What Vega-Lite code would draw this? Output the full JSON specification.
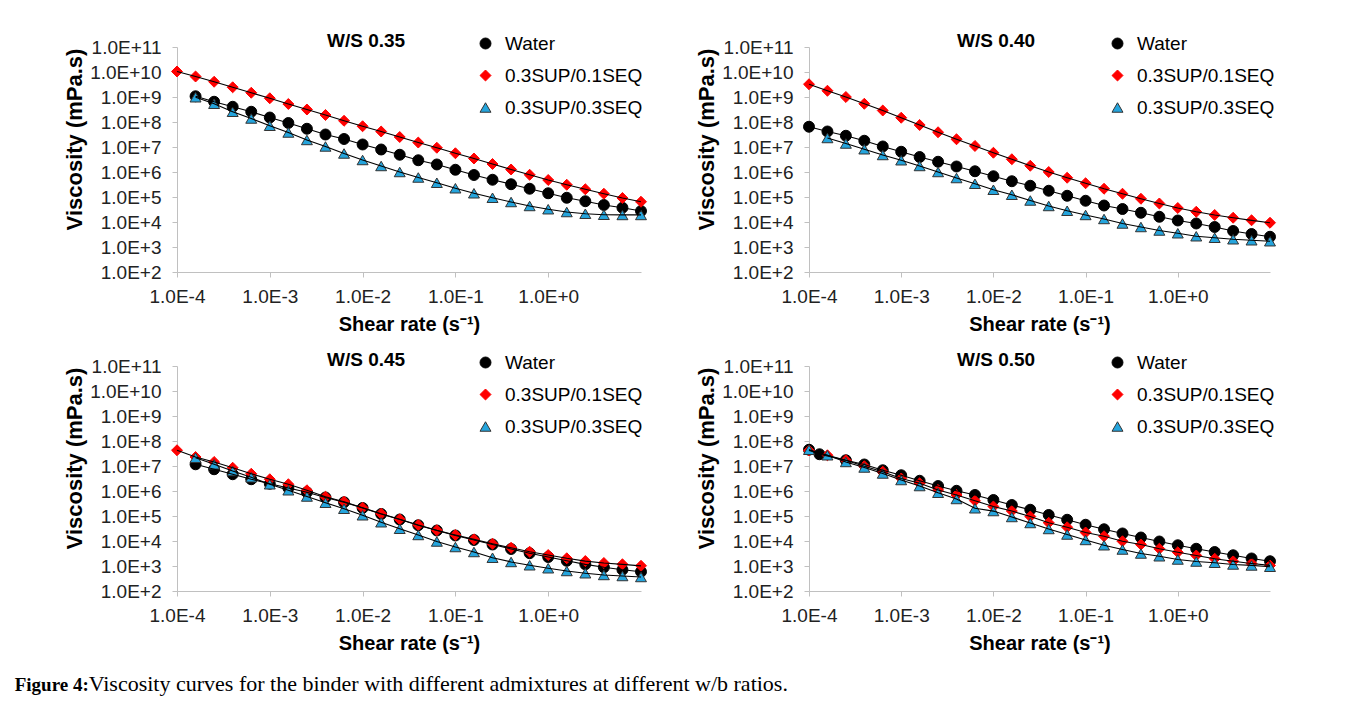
{
"$schema": "https://vega.github.io/schema/vega-lite/v6.json",
"background": "white",
"padding": {"left": 14, "top": 32, "right": 5, "bottom": 5},
"config": {
 "view": {"stroke": null},
 "font": "Liberation Sans",
 "axis": {"grid": false, "domainColor": "#c0c0c0", "tickColor": "#c0c0c0", "tickSize": 5, "labelFont": "Liberation Sans", "labelFontSize": 19, "labelColor": "#222", "titleFont": "Liberation Sans", "titleFontSize": 20, "titleFontWeight": "bold", "titleColor": "#000", "labelFlush": false, "labelOverlap": false},
 "axisY": {"labelPadding": 11, "titlePadding": 3, "titleFontSize": 22, "titleY": 92},
 "axisX": {"labelPadding": 10, "titlePadding": 8},
 "legend": {"orient": "none", "legendX": 299, "legendY": -13, "labelFont": "Liberation Sans", "labelFontSize": 19, "labelColor": "#000", "symbolSize": 120, "rowPadding": 12, "labelOffset": 10, "padding": 0, "symbolStrokeWidth": 1},
 "title": {"font": "Liberation Sans", "fontSize": 19, "fontWeight": "bold", "anchor": "start", "frame": "group", "color": "#000"}
},
"datasets": {"visc": [
{"panel":"W/S 0.35","series":"Water","rate":0.0001585,"viscosity":1.07e9},
{"panel":"W/S 0.35","series":"Water","rate":0.0002512,"viscosity":6.46e8},
{"panel":"W/S 0.35","series":"Water","rate":0.0003981,"viscosity":4.07e8},
{"panel":"W/S 0.35","series":"Water","rate":0.000631,"viscosity":2.57e8},
{"panel":"W/S 0.35","series":"Water","rate":0.001,"viscosity":1.51e8},
{"panel":"W/S 0.35","series":"Water","rate":0.001585,"viscosity":9.12e7},
{"panel":"W/S 0.35","series":"Water","rate":0.002512,"viscosity":5.37e7},
{"panel":"W/S 0.35","series":"Water","rate":0.003981,"viscosity":3.16e7},
{"panel":"W/S 0.35","series":"Water","rate":0.00631,"viscosity":2.09e7},
{"panel":"W/S 0.35","series":"Water","rate":0.01,"viscosity":1.26e7},
{"panel":"W/S 0.35","series":"Water","rate":0.01585,"viscosity":7.94e6},
{"panel":"W/S 0.35","series":"Water","rate":0.02512,"viscosity":4.9e6},
{"panel":"W/S 0.35","series":"Water","rate":0.03981,"viscosity":2.95e6},
{"panel":"W/S 0.35","series":"Water","rate":0.0631,"viscosity":2.0e6},
{"panel":"W/S 0.35","series":"Water","rate":0.1,"viscosity":1.23e6},
{"panel":"W/S 0.35","series":"Water","rate":0.1585,"viscosity":7.59e5},
{"panel":"W/S 0.35","series":"Water","rate":0.2512,"viscosity":4.9e5},
{"panel":"W/S 0.35","series":"Water","rate":0.3981,"viscosity":3.24e5},
{"panel":"W/S 0.35","series":"Water","rate":0.631,"viscosity":2.14e5},
{"panel":"W/S 0.35","series":"Water","rate":1,"viscosity":1.41e5},
{"panel":"W/S 0.35","series":"Water","rate":1.585,"viscosity":9.33e4},
{"panel":"W/S 0.35","series":"Water","rate":2.512,"viscosity":6.76e4},
{"panel":"W/S 0.35","series":"Water","rate":3.981,"viscosity":4.79e4},
{"panel":"W/S 0.35","series":"Water","rate":6.31,"viscosity":3.72e4},
{"panel":"W/S 0.35","series":"Water","rate":10,"viscosity":2.75e4},
{"panel":"W/S 0.35","series":"0.3SUP/0.1SEQ","rate":0.0001,"viscosity":1.05e10},
{"panel":"W/S 0.35","series":"0.3SUP/0.1SEQ","rate":0.0001585,"viscosity":6.61e9},
{"panel":"W/S 0.35","series":"0.3SUP/0.1SEQ","rate":0.0002512,"viscosity":4.07e9},
{"panel":"W/S 0.35","series":"0.3SUP/0.1SEQ","rate":0.0003981,"viscosity":2.45e9},
{"panel":"W/S 0.35","series":"0.3SUP/0.1SEQ","rate":0.000631,"viscosity":1.48e9},
{"panel":"W/S 0.35","series":"0.3SUP/0.1SEQ","rate":0.001,"viscosity":8.91e8},
{"panel":"W/S 0.35","series":"0.3SUP/0.1SEQ","rate":0.001585,"viscosity":5.25e8},
{"panel":"W/S 0.35","series":"0.3SUP/0.1SEQ","rate":0.002512,"viscosity":3.16e8},
{"panel":"W/S 0.35","series":"0.3SUP/0.1SEQ","rate":0.003981,"viscosity":1.91e8},
{"panel":"W/S 0.35","series":"0.3SUP/0.1SEQ","rate":0.00631,"viscosity":1.12e8},
{"panel":"W/S 0.35","series":"0.3SUP/0.1SEQ","rate":0.01,"viscosity":6.76e7},
{"panel":"W/S 0.35","series":"0.3SUP/0.1SEQ","rate":0.01585,"viscosity":4.17e7},
{"panel":"W/S 0.35","series":"0.3SUP/0.1SEQ","rate":0.02512,"viscosity":2.51e7},
{"panel":"W/S 0.35","series":"0.3SUP/0.1SEQ","rate":0.03981,"viscosity":1.51e7},
{"panel":"W/S 0.35","series":"0.3SUP/0.1SEQ","rate":0.0631,"viscosity":9.33e6},
{"panel":"W/S 0.35","series":"0.3SUP/0.1SEQ","rate":0.1,"viscosity":5.62e6},
{"panel":"W/S 0.35","series":"0.3SUP/0.1SEQ","rate":0.1585,"viscosity":3.47e6},
{"panel":"W/S 0.35","series":"0.3SUP/0.1SEQ","rate":0.2512,"viscosity":2.09e6},
{"panel":"W/S 0.35","series":"0.3SUP/0.1SEQ","rate":0.3981,"viscosity":1.26e6},
{"panel":"W/S 0.35","series":"0.3SUP/0.1SEQ","rate":0.631,"viscosity":7.76e5},
{"panel":"W/S 0.35","series":"0.3SUP/0.1SEQ","rate":1,"viscosity":4.79e5},
{"panel":"W/S 0.35","series":"0.3SUP/0.1SEQ","rate":1.585,"viscosity":3.09e5},
{"panel":"W/S 0.35","series":"0.3SUP/0.1SEQ","rate":2.512,"viscosity":2.04e5},
{"panel":"W/S 0.35","series":"0.3SUP/0.1SEQ","rate":3.981,"viscosity":1.35e5},
{"panel":"W/S 0.35","series":"0.3SUP/0.1SEQ","rate":6.31,"viscosity":9.12e4},
{"panel":"W/S 0.35","series":"0.3SUP/0.1SEQ","rate":10,"viscosity":6.46e4},
{"panel":"W/S 0.35","series":"0.3SUP/0.3SEQ","rate":0.0001585,"viscosity":9.77e8},
{"panel":"W/S 0.35","series":"0.3SUP/0.3SEQ","rate":0.0002512,"viscosity":5.37e8},
{"panel":"W/S 0.35","series":"0.3SUP/0.3SEQ","rate":0.0003981,"viscosity":2.57e8},
{"panel":"W/S 0.35","series":"0.3SUP/0.3SEQ","rate":0.000631,"viscosity":1.38e8},
{"panel":"W/S 0.35","series":"0.3SUP/0.3SEQ","rate":0.001,"viscosity":7.08e7},
{"panel":"W/S 0.35","series":"0.3SUP/0.3SEQ","rate":0.001585,"viscosity":3.8e7},
{"panel":"W/S 0.35","series":"0.3SUP/0.3SEQ","rate":0.002512,"viscosity":1.91e7},
{"panel":"W/S 0.35","series":"0.3SUP/0.3SEQ","rate":0.003981,"viscosity":1.05e7},
{"panel":"W/S 0.35","series":"0.3SUP/0.3SEQ","rate":0.00631,"viscosity":5.5e6},
{"panel":"W/S 0.35","series":"0.3SUP/0.3SEQ","rate":0.01,"viscosity":3.02e6},
{"panel":"W/S 0.35","series":"0.3SUP/0.3SEQ","rate":0.01585,"viscosity":1.74e6},
{"panel":"W/S 0.35","series":"0.3SUP/0.3SEQ","rate":0.02512,"viscosity":1.0e6},
{"panel":"W/S 0.35","series":"0.3SUP/0.3SEQ","rate":0.03981,"viscosity":6.03e5},
{"panel":"W/S 0.35","series":"0.3SUP/0.3SEQ","rate":0.0631,"viscosity":3.72e5},
{"panel":"W/S 0.35","series":"0.3SUP/0.3SEQ","rate":0.1,"viscosity":2.24e5},
{"panel":"W/S 0.35","series":"0.3SUP/0.3SEQ","rate":0.1585,"viscosity":1.41e5},
{"panel":"W/S 0.35","series":"0.3SUP/0.3SEQ","rate":0.2512,"viscosity":9.33e4},
{"panel":"W/S 0.35","series":"0.3SUP/0.3SEQ","rate":0.3981,"viscosity":6.31e4},
{"panel":"W/S 0.35","series":"0.3SUP/0.3SEQ","rate":0.631,"viscosity":4.37e4},
{"panel":"W/S 0.35","series":"0.3SUP/0.3SEQ","rate":1,"viscosity":3.24e4},
{"panel":"W/S 0.35","series":"0.3SUP/0.3SEQ","rate":1.585,"viscosity":2.51e4},
{"panel":"W/S 0.35","series":"0.3SUP/0.3SEQ","rate":2.512,"viscosity":2.14e4},
{"panel":"W/S 0.35","series":"0.3SUP/0.3SEQ","rate":3.981,"viscosity":1.95e4},
{"panel":"W/S 0.35","series":"0.3SUP/0.3SEQ","rate":6.31,"viscosity":1.91e4},
{"panel":"W/S 0.35","series":"0.3SUP/0.3SEQ","rate":10,"viscosity":1.91e4},
{"panel":"W/S 0.40","series":"Water","rate":0.0001,"viscosity":6.46e7},
{"panel":"W/S 0.40","series":"Water","rate":0.0001585,"viscosity":4.17e7},
{"panel":"W/S 0.40","series":"Water","rate":0.0002512,"viscosity":2.82e7},
{"panel":"W/S 0.40","series":"Water","rate":0.0003981,"viscosity":1.78e7},
{"panel":"W/S 0.40","series":"Water","rate":0.000631,"viscosity":1.05e7},
{"panel":"W/S 0.40","series":"Water","rate":0.001,"viscosity":6.46e6},
{"panel":"W/S 0.40","series":"Water","rate":0.001585,"viscosity":3.98e6},
{"panel":"W/S 0.40","series":"Water","rate":0.002512,"viscosity":2.57e6},
{"panel":"W/S 0.40","series":"Water","rate":0.003981,"viscosity":1.66e6},
{"panel":"W/S 0.40","series":"Water","rate":0.00631,"viscosity":1.07e6},
{"panel":"W/S 0.40","series":"Water","rate":0.01,"viscosity":6.76e5},
{"panel":"W/S 0.40","series":"Water","rate":0.01585,"viscosity":4.27e5},
{"panel":"W/S 0.40","series":"Water","rate":0.02512,"viscosity":2.82e5},
{"panel":"W/S 0.40","series":"Water","rate":0.03981,"viscosity":1.78e5},
{"panel":"W/S 0.40","series":"Water","rate":0.0631,"viscosity":1.12e5},
{"panel":"W/S 0.40","series":"Water","rate":0.1,"viscosity":7.08e4},
{"panel":"W/S 0.40","series":"Water","rate":0.1585,"viscosity":4.57e4},
{"panel":"W/S 0.40","series":"Water","rate":0.2512,"viscosity":3.31e4},
{"panel":"W/S 0.40","series":"Water","rate":0.3981,"viscosity":2.34e4},
{"panel":"W/S 0.40","series":"Water","rate":0.631,"viscosity":1.62e4},
{"panel":"W/S 0.40","series":"Water","rate":1,"viscosity":1.15e4},
{"panel":"W/S 0.40","series":"Water","rate":1.585,"viscosity":8.71e3},
{"panel":"W/S 0.40","series":"Water","rate":2.512,"viscosity":6.31e3},
{"panel":"W/S 0.40","series":"Water","rate":3.981,"viscosity":4.37e3},
{"panel":"W/S 0.40","series":"Water","rate":6.31,"viscosity":3.31e3},
{"panel":"W/S 0.40","series":"Water","rate":10,"viscosity":2.57e3},
{"panel":"W/S 0.40","series":"0.3SUP/0.1SEQ","rate":0.0001,"viscosity":3.24e9},
{"panel":"W/S 0.40","series":"0.3SUP/0.1SEQ","rate":0.0001585,"viscosity":1.78e9},
{"panel":"W/S 0.40","series":"0.3SUP/0.1SEQ","rate":0.0002512,"viscosity":1.0e9},
{"panel":"W/S 0.40","series":"0.3SUP/0.1SEQ","rate":0.0003981,"viscosity":5.37e8},
{"panel":"W/S 0.40","series":"0.3SUP/0.1SEQ","rate":0.000631,"viscosity":2.88e8},
{"panel":"W/S 0.40","series":"0.3SUP/0.1SEQ","rate":0.001,"viscosity":1.48e8},
{"panel":"W/S 0.40","series":"0.3SUP/0.1SEQ","rate":0.001585,"viscosity":7.59e7},
{"panel":"W/S 0.40","series":"0.3SUP/0.1SEQ","rate":0.002512,"viscosity":3.89e7},
{"panel":"W/S 0.40","series":"0.3SUP/0.1SEQ","rate":0.003981,"viscosity":2.04e7},
{"panel":"W/S 0.40","series":"0.3SUP/0.1SEQ","rate":0.00631,"viscosity":1.1e7},
{"panel":"W/S 0.40","series":"0.3SUP/0.1SEQ","rate":0.01,"viscosity":5.89e6},
{"panel":"W/S 0.40","series":"0.3SUP/0.1SEQ","rate":0.01585,"viscosity":3.24e6},
{"panel":"W/S 0.40","series":"0.3SUP/0.1SEQ","rate":0.02512,"viscosity":1.78e6},
{"panel":"W/S 0.40","series":"0.3SUP/0.1SEQ","rate":0.03981,"viscosity":1.0e6},
{"panel":"W/S 0.40","series":"0.3SUP/0.1SEQ","rate":0.0631,"viscosity":5.89e5},
{"panel":"W/S 0.40","series":"0.3SUP/0.1SEQ","rate":0.1,"viscosity":3.55e5},
{"panel":"W/S 0.40","series":"0.3SUP/0.1SEQ","rate":0.1585,"viscosity":2.14e5},
{"panel":"W/S 0.40","series":"0.3SUP/0.1SEQ","rate":0.2512,"viscosity":1.35e5},
{"panel":"W/S 0.40","series":"0.3SUP/0.1SEQ","rate":0.3981,"viscosity":8.51e4},
{"panel":"W/S 0.40","series":"0.3SUP/0.1SEQ","rate":0.631,"viscosity":5.5e4},
{"panel":"W/S 0.40","series":"0.3SUP/0.1SEQ","rate":1,"viscosity":3.63e4},
{"panel":"W/S 0.40","series":"0.3SUP/0.1SEQ","rate":1.585,"viscosity":2.57e4},
{"panel":"W/S 0.40","series":"0.3SUP/0.1SEQ","rate":2.512,"viscosity":1.91e4},
{"panel":"W/S 0.40","series":"0.3SUP/0.1SEQ","rate":3.981,"viscosity":1.48e4},
{"panel":"W/S 0.40","series":"0.3SUP/0.1SEQ","rate":6.31,"viscosity":1.17e4},
{"panel":"W/S 0.40","series":"0.3SUP/0.1SEQ","rate":10,"viscosity":9.33e3},
{"panel":"W/S 0.40","series":"0.3SUP/0.3SEQ","rate":0.0001585,"viscosity":2.29e7},
{"panel":"W/S 0.40","series":"0.3SUP/0.3SEQ","rate":0.0002512,"viscosity":1.38e7},
{"panel":"W/S 0.40","series":"0.3SUP/0.3SEQ","rate":0.0003981,"viscosity":8.13e6},
{"panel":"W/S 0.40","series":"0.3SUP/0.3SEQ","rate":0.000631,"viscosity":4.79e6},
{"panel":"W/S 0.40","series":"0.3SUP/0.3SEQ","rate":0.001,"viscosity":2.95e6},
{"panel":"W/S 0.40","series":"0.3SUP/0.3SEQ","rate":0.001585,"viscosity":1.74e6},
{"panel":"W/S 0.40","series":"0.3SUP/0.3SEQ","rate":0.002512,"viscosity":1.0e6},
{"panel":"W/S 0.40","series":"0.3SUP/0.3SEQ","rate":0.003981,"viscosity":5.75e5},
{"panel":"W/S 0.40","series":"0.3SUP/0.3SEQ","rate":0.00631,"viscosity":3.39e5},
{"panel":"W/S 0.40","series":"0.3SUP/0.3SEQ","rate":0.01,"viscosity":1.95e5},
{"panel":"W/S 0.40","series":"0.3SUP/0.3SEQ","rate":0.01585,"viscosity":1.23e5},
{"panel":"W/S 0.40","series":"0.3SUP/0.3SEQ","rate":0.02512,"viscosity":7.24e4},
{"panel":"W/S 0.40","series":"0.3SUP/0.3SEQ","rate":0.03981,"viscosity":4.37e4},
{"panel":"W/S 0.40","series":"0.3SUP/0.3SEQ","rate":0.0631,"viscosity":2.82e4},
{"panel":"W/S 0.40","series":"0.3SUP/0.3SEQ","rate":0.1,"viscosity":1.91e4},
{"panel":"W/S 0.40","series":"0.3SUP/0.3SEQ","rate":0.1585,"viscosity":1.32e4},
{"panel":"W/S 0.40","series":"0.3SUP/0.3SEQ","rate":0.2512,"viscosity":8.71e3},
{"panel":"W/S 0.40","series":"0.3SUP/0.3SEQ","rate":0.3981,"viscosity":6.31e3},
{"panel":"W/S 0.40","series":"0.3SUP/0.3SEQ","rate":0.631,"viscosity":4.57e3},
{"panel":"W/S 0.40","series":"0.3SUP/0.3SEQ","rate":1,"viscosity":3.55e3},
{"panel":"W/S 0.40","series":"0.3SUP/0.3SEQ","rate":1.585,"viscosity":2.69e3},
{"panel":"W/S 0.40","series":"0.3SUP/0.3SEQ","rate":2.512,"viscosity":2.34e3},
{"panel":"W/S 0.40","series":"0.3SUP/0.3SEQ","rate":3.981,"viscosity":2.04e3},
{"panel":"W/S 0.40","series":"0.3SUP/0.3SEQ","rate":6.31,"viscosity":1.86e3},
{"panel":"W/S 0.40","series":"0.3SUP/0.3SEQ","rate":10,"viscosity":1.7e3},
{"panel":"W/S 0.45","series":"Water","rate":0.0001585,"viscosity":1.17e7},
{"panel":"W/S 0.45","series":"Water","rate":0.0002512,"viscosity":7.41e6},
{"panel":"W/S 0.45","series":"Water","rate":0.0003981,"viscosity":4.68e6},
{"panel":"W/S 0.45","series":"Water","rate":0.000631,"viscosity":2.95e6},
{"panel":"W/S 0.45","series":"Water","rate":0.001,"viscosity":1.95e6},
{"panel":"W/S 0.45","series":"Water","rate":0.001585,"viscosity":1.32e6},
{"panel":"W/S 0.45","series":"Water","rate":0.002512,"viscosity":8.91e5},
{"panel":"W/S 0.45","series":"Water","rate":0.003981,"viscosity":5.5e5},
{"panel":"W/S 0.45","series":"Water","rate":0.00631,"viscosity":3.55e5},
{"panel":"W/S 0.45","series":"Water","rate":0.01,"viscosity":2.09e5},
{"panel":"W/S 0.45","series":"Water","rate":0.01585,"viscosity":1.2e5},
{"panel":"W/S 0.45","series":"Water","rate":0.02512,"viscosity":7.24e4},
{"panel":"W/S 0.45","series":"Water","rate":0.03981,"viscosity":4.27e4},
{"panel":"W/S 0.45","series":"Water","rate":0.0631,"viscosity":2.63e4},
{"panel":"W/S 0.45","series":"Water","rate":0.1,"viscosity":1.66e4},
{"panel":"W/S 0.45","series":"Water","rate":0.1585,"viscosity":1.1e4},
{"panel":"W/S 0.45","series":"Water","rate":0.2512,"viscosity":7.24e3},
{"panel":"W/S 0.45","series":"Water","rate":0.3981,"viscosity":4.79e3},
{"panel":"W/S 0.45","series":"Water","rate":0.631,"viscosity":3.24e3},
{"panel":"W/S 0.45","series":"Water","rate":1,"viscosity":2.29e3},
{"panel":"W/S 0.45","series":"Water","rate":1.585,"viscosity":1.62e3},
{"panel":"W/S 0.45","series":"Water","rate":2.512,"viscosity":1.17e3},
{"panel":"W/S 0.45","series":"Water","rate":3.981,"viscosity":891},
{"panel":"W/S 0.45","series":"Water","rate":6.31,"viscosity":708},
{"panel":"W/S 0.45","series":"Water","rate":10,"viscosity":589},
{"panel":"W/S 0.45","series":"0.3SUP/0.1SEQ","rate":0.0001,"viscosity":4.27e7},
{"panel":"W/S 0.45","series":"0.3SUP/0.1SEQ","rate":0.0001585,"viscosity":2.29e7},
{"panel":"W/S 0.45","series":"0.3SUP/0.1SEQ","rate":0.0002512,"viscosity":1.45e7},
{"panel":"W/S 0.45","series":"0.3SUP/0.1SEQ","rate":0.0003981,"viscosity":8.51e6},
{"panel":"W/S 0.45","series":"0.3SUP/0.1SEQ","rate":0.000631,"viscosity":4.9e6},
{"panel":"W/S 0.45","series":"0.3SUP/0.1SEQ","rate":0.001,"viscosity":2.95e6},
{"panel":"W/S 0.45","series":"0.3SUP/0.1SEQ","rate":0.001585,"viscosity":1.86e6},
{"panel":"W/S 0.45","series":"0.3SUP/0.1SEQ","rate":0.002512,"viscosity":1.07e6},
{"panel":"W/S 0.45","series":"0.3SUP/0.1SEQ","rate":0.003981,"viscosity":5.89e5},
{"panel":"W/S 0.45","series":"0.3SUP/0.1SEQ","rate":0.00631,"viscosity":3.72e5},
{"panel":"W/S 0.45","series":"0.3SUP/0.1SEQ","rate":0.01,"viscosity":2.14e5},
{"panel":"W/S 0.45","series":"0.3SUP/0.1SEQ","rate":0.01585,"viscosity":1.23e5},
{"panel":"W/S 0.45","series":"0.3SUP/0.1SEQ","rate":0.02512,"viscosity":7.41e4},
{"panel":"W/S 0.45","series":"0.3SUP/0.1SEQ","rate":0.03981,"viscosity":4.37e4},
{"panel":"W/S 0.45","series":"0.3SUP/0.1SEQ","rate":0.0631,"viscosity":2.69e4},
{"panel":"W/S 0.45","series":"0.3SUP/0.1SEQ","rate":0.1,"viscosity":1.74e4},
{"panel":"W/S 0.45","series":"0.3SUP/0.1SEQ","rate":0.1585,"viscosity":1.17e4},
{"panel":"W/S 0.45","series":"0.3SUP/0.1SEQ","rate":0.2512,"viscosity":7.76e3},
{"panel":"W/S 0.45","series":"0.3SUP/0.1SEQ","rate":0.3981,"viscosity":5.37e3},
{"panel":"W/S 0.45","series":"0.3SUP/0.1SEQ","rate":0.631,"viscosity":3.72e3},
{"panel":"W/S 0.45","series":"0.3SUP/0.1SEQ","rate":1,"viscosity":2.75e3},
{"panel":"W/S 0.45","series":"0.3SUP/0.1SEQ","rate":1.585,"viscosity":2.04e3},
{"panel":"W/S 0.45","series":"0.3SUP/0.1SEQ","rate":2.512,"viscosity":1.58e3},
{"panel":"W/S 0.45","series":"0.3SUP/0.1SEQ","rate":3.981,"viscosity":1.32e3},
{"panel":"W/S 0.45","series":"0.3SUP/0.1SEQ","rate":6.31,"viscosity":1.17e3},
{"panel":"W/S 0.45","series":"0.3SUP/0.1SEQ","rate":10,"viscosity":1.02e3},
{"panel":"W/S 0.45","series":"0.3SUP/0.3SEQ","rate":0.0001585,"viscosity":2.14e7},
{"panel":"W/S 0.45","series":"0.3SUP/0.3SEQ","rate":0.0002512,"viscosity":1.17e7},
{"panel":"W/S 0.45","series":"0.3SUP/0.3SEQ","rate":0.0003981,"viscosity":6.31e6},
{"panel":"W/S 0.45","series":"0.3SUP/0.3SEQ","rate":0.000631,"viscosity":3.55e6},
{"panel":"W/S 0.45","series":"0.3SUP/0.3SEQ","rate":0.001,"viscosity":1.86e6},
{"panel":"W/S 0.45","series":"0.3SUP/0.3SEQ","rate":0.001585,"viscosity":1.07e6},
{"panel":"W/S 0.45","series":"0.3SUP/0.3SEQ","rate":0.002512,"viscosity":6.03e5},
{"panel":"W/S 0.45","series":"0.3SUP/0.3SEQ","rate":0.003981,"viscosity":3.39e5},
{"panel":"W/S 0.45","series":"0.3SUP/0.3SEQ","rate":0.00631,"viscosity":1.95e5},
{"panel":"W/S 0.45","series":"0.3SUP/0.3SEQ","rate":0.01,"viscosity":1.07e5},
{"panel":"W/S 0.45","series":"0.3SUP/0.3SEQ","rate":0.01585,"viscosity":5.62e4},
{"panel":"W/S 0.45","series":"0.3SUP/0.3SEQ","rate":0.02512,"viscosity":3.09e4},
{"panel":"W/S 0.45","series":"0.3SUP/0.3SEQ","rate":0.03981,"viscosity":1.74e4},
{"panel":"W/S 0.45","series":"0.3SUP/0.3SEQ","rate":0.0631,"viscosity":9.55e3},
{"panel":"W/S 0.45","series":"0.3SUP/0.3SEQ","rate":0.1,"viscosity":5.75e3},
{"panel":"W/S 0.45","series":"0.3SUP/0.3SEQ","rate":0.1585,"viscosity":3.63e3},
{"panel":"W/S 0.45","series":"0.3SUP/0.3SEQ","rate":0.2512,"viscosity":2.14e3},
{"panel":"W/S 0.45","series":"0.3SUP/0.3SEQ","rate":0.3981,"viscosity":1.45e3},
{"panel":"W/S 0.45","series":"0.3SUP/0.3SEQ","rate":0.631,"viscosity":1.07e3},
{"panel":"W/S 0.45","series":"0.3SUP/0.3SEQ","rate":1,"viscosity":813},
{"panel":"W/S 0.45","series":"0.3SUP/0.3SEQ","rate":1.585,"viscosity":631},
{"panel":"W/S 0.45","series":"0.3SUP/0.3SEQ","rate":2.512,"viscosity":513},
{"panel":"W/S 0.45","series":"0.3SUP/0.3SEQ","rate":3.981,"viscosity":437},
{"panel":"W/S 0.45","series":"0.3SUP/0.3SEQ","rate":6.31,"viscosity":398},
{"panel":"W/S 0.45","series":"0.3SUP/0.3SEQ","rate":10,"viscosity":363},
{"panel":"W/S 0.50","series":"Water","rate":0.0001,"viscosity":4.47e7},
{"panel":"W/S 0.50","series":"Water","rate":0.00013,"viscosity":2.95e7},
{"panel":"W/S 0.50","series":"Water","rate":0.0002512,"viscosity":1.7e7},
{"panel":"W/S 0.50","series":"Water","rate":0.0003981,"viscosity":1.15e7},
{"panel":"W/S 0.50","series":"Water","rate":0.000631,"viscosity":6.76e6},
{"panel":"W/S 0.50","series":"Water","rate":0.001,"viscosity":4.27e6},
{"panel":"W/S 0.50","series":"Water","rate":0.001585,"viscosity":2.57e6},
{"panel":"W/S 0.50","series":"Water","rate":0.002512,"viscosity":1.58e6},
{"panel":"W/S 0.50","series":"Water","rate":0.003981,"viscosity":1.02e6},
{"panel":"W/S 0.50","series":"Water","rate":0.00631,"viscosity":6.92e5},
{"panel":"W/S 0.50","series":"Water","rate":0.01,"viscosity":4.37e5},
{"panel":"W/S 0.50","series":"Water","rate":0.01585,"viscosity":2.75e5},
{"panel":"W/S 0.50","series":"Water","rate":0.02512,"viscosity":1.78e5},
{"panel":"W/S 0.50","series":"Water","rate":0.03981,"viscosity":1.1e5},
{"panel":"W/S 0.50","series":"Water","rate":0.0631,"viscosity":7.08e4},
{"panel":"W/S 0.50","series":"Water","rate":0.1,"viscosity":4.47e4},
{"panel":"W/S 0.50","series":"Water","rate":0.1585,"viscosity":2.95e4},
{"panel":"W/S 0.50","series":"Water","rate":0.2512,"viscosity":2.0e4},
{"panel":"W/S 0.50","series":"Water","rate":0.3981,"viscosity":1.38e4},
{"panel":"W/S 0.50","series":"Water","rate":0.631,"viscosity":9.55e3},
{"panel":"W/S 0.50","series":"Water","rate":1,"viscosity":6.76e3},
{"panel":"W/S 0.50","series":"Water","rate":1.585,"viscosity":4.9e3},
{"panel":"W/S 0.50","series":"Water","rate":2.512,"viscosity":3.63e3},
{"panel":"W/S 0.50","series":"Water","rate":3.981,"viscosity":2.69e3},
{"panel":"W/S 0.50","series":"Water","rate":6.31,"viscosity":2.0e3},
{"panel":"W/S 0.50","series":"Water","rate":10,"viscosity":1.55e3},
{"panel":"W/S 0.50","series":"0.3SUP/0.1SEQ","rate":0.0001,"viscosity":4.17e7},
{"panel":"W/S 0.50","series":"0.3SUP/0.1SEQ","rate":0.0001585,"viscosity":2.69e7},
{"panel":"W/S 0.50","series":"0.3SUP/0.1SEQ","rate":0.0002512,"viscosity":1.7e7},
{"panel":"W/S 0.50","series":"0.3SUP/0.1SEQ","rate":0.0003981,"viscosity":9.77e6},
{"panel":"W/S 0.50","series":"0.3SUP/0.1SEQ","rate":0.000631,"viscosity":5.89e6},
{"panel":"W/S 0.50","series":"0.3SUP/0.1SEQ","rate":0.001,"viscosity":3.16e6},
{"panel":"W/S 0.50","series":"0.3SUP/0.1SEQ","rate":0.001585,"viscosity":2.04e6},
{"panel":"W/S 0.50","series":"0.3SUP/0.1SEQ","rate":0.002512,"viscosity":1.1e6},
{"panel":"W/S 0.50","series":"0.3SUP/0.1SEQ","rate":0.003981,"viscosity":6.92e5},
{"panel":"W/S 0.50","series":"0.3SUP/0.1SEQ","rate":0.00631,"viscosity":4.07e5},
{"panel":"W/S 0.50","series":"0.3SUP/0.1SEQ","rate":0.01,"viscosity":2.4e5},
{"panel":"W/S 0.50","series":"0.3SUP/0.1SEQ","rate":0.01585,"viscosity":1.58e5},
{"panel":"W/S 0.50","series":"0.3SUP/0.1SEQ","rate":0.02512,"viscosity":9.55e4},
{"panel":"W/S 0.50","series":"0.3SUP/0.1SEQ","rate":0.03981,"viscosity":5.37e4},
{"panel":"W/S 0.50","series":"0.3SUP/0.1SEQ","rate":0.0631,"viscosity":3.55e4},
{"panel":"W/S 0.50","series":"0.3SUP/0.1SEQ","rate":0.1,"viscosity":2.19e4},
{"panel":"W/S 0.50","series":"0.3SUP/0.1SEQ","rate":0.1585,"viscosity":1.55e4},
{"panel":"W/S 0.50","series":"0.3SUP/0.1SEQ","rate":0.2512,"viscosity":9.77e3},
{"panel":"W/S 0.50","series":"0.3SUP/0.1SEQ","rate":0.3981,"viscosity":7.24e3},
{"panel":"W/S 0.50","series":"0.3SUP/0.1SEQ","rate":0.631,"viscosity":4.9e3},
{"panel":"W/S 0.50","series":"0.3SUP/0.1SEQ","rate":1,"viscosity":3.55e3},
{"panel":"W/S 0.50","series":"0.3SUP/0.1SEQ","rate":1.585,"viscosity":2.63e3},
{"panel":"W/S 0.50","series":"0.3SUP/0.1SEQ","rate":2.512,"viscosity":1.95e3},
{"panel":"W/S 0.50","series":"0.3SUP/0.1SEQ","rate":3.981,"viscosity":1.55e3},
{"panel":"W/S 0.50","series":"0.3SUP/0.1SEQ","rate":6.31,"viscosity":1.26e3},
{"panel":"W/S 0.50","series":"0.3SUP/0.1SEQ","rate":10,"viscosity":1.05e3},
{"panel":"W/S 0.50","series":"0.3SUP/0.3SEQ","rate":0.0001,"viscosity":4.47e7},
{"panel":"W/S 0.50","series":"0.3SUP/0.3SEQ","rate":0.0001585,"viscosity":2.69e7},
{"panel":"W/S 0.50","series":"0.3SUP/0.3SEQ","rate":0.0002512,"viscosity":1.45e7},
{"panel":"W/S 0.50","series":"0.3SUP/0.3SEQ","rate":0.0003981,"viscosity":8.71e6},
{"panel":"W/S 0.50","series":"0.3SUP/0.3SEQ","rate":0.000631,"viscosity":5.01e6},
{"panel":"W/S 0.50","series":"0.3SUP/0.3SEQ","rate":0.001,"viscosity":2.75e6},
{"panel":"W/S 0.50","series":"0.3SUP/0.3SEQ","rate":0.001585,"viscosity":1.58e6},
{"panel":"W/S 0.50","series":"0.3SUP/0.3SEQ","rate":0.002512,"viscosity":8.51e5},
{"panel":"W/S 0.50","series":"0.3SUP/0.3SEQ","rate":0.003981,"viscosity":4.79e5},
{"panel":"W/S 0.50","series":"0.3SUP/0.3SEQ","rate":0.00631,"viscosity":2.04e5},
{"panel":"W/S 0.50","series":"0.3SUP/0.3SEQ","rate":0.01,"viscosity":1.58e5},
{"panel":"W/S 0.50","series":"0.3SUP/0.3SEQ","rate":0.01585,"viscosity":9.12e4},
{"panel":"W/S 0.50","series":"0.3SUP/0.3SEQ","rate":0.02512,"viscosity":5.25e4},
{"panel":"W/S 0.50","series":"0.3SUP/0.3SEQ","rate":0.03981,"viscosity":3.02e4},
{"panel":"W/S 0.50","series":"0.3SUP/0.3SEQ","rate":0.0631,"viscosity":1.82e4},
{"panel":"W/S 0.50","series":"0.3SUP/0.3SEQ","rate":0.1,"viscosity":1.1e4},
{"panel":"W/S 0.50","series":"0.3SUP/0.3SEQ","rate":0.1585,"viscosity":6.76e3},
{"panel":"W/S 0.50","series":"0.3SUP/0.3SEQ","rate":0.2512,"viscosity":4.57e3},
{"panel":"W/S 0.50","series":"0.3SUP/0.3SEQ","rate":0.3981,"viscosity":3.16e3},
{"panel":"W/S 0.50","series":"0.3SUP/0.3SEQ","rate":0.631,"viscosity":2.45e3},
{"panel":"W/S 0.50","series":"0.3SUP/0.3SEQ","rate":1,"viscosity":1.82e3},
{"panel":"W/S 0.50","series":"0.3SUP/0.3SEQ","rate":1.585,"viscosity":1.51e3},
{"panel":"W/S 0.50","series":"0.3SUP/0.3SEQ","rate":2.512,"viscosity":1.35e3},
{"panel":"W/S 0.50","series":"0.3SUP/0.3SEQ","rate":3.981,"viscosity":1.15e3},
{"panel":"W/S 0.50","series":"0.3SUP/0.3SEQ","rate":6.31,"viscosity":1.05e3},
{"panel":"W/S 0.50","series":"0.3SUP/0.3SEQ","rate":10,"viscosity":933}
]},
"title": {"text": "Figure 4:", "orient": "bottom", "anchor": "start", "frame": "bounds", "font": "Liberation Serif", "fontSize": 19, "fontWeight": "bold", "color": "#000", "dx": -49, "offset": -4, "baseline": "alphabetic"},
"spacing": 17,
"resolve": {"scale": {"fill": "independent", "stroke": "independent", "shape": "independent"}, "legend": {"fill": "independent", "stroke": "independent", "shape": "independent"}},
"vconcat": [
 {"spacing": 46,
  "resolve": {"scale": {"fill": "independent", "stroke": "independent", "shape": "independent"}, "legend": {"fill": "independent", "stroke": "independent", "shape": "independent"}},
  "hconcat": [
  {"width": 464, "height": 225, "title": {"text": "W/S 0.35", "dx": 150, "offset": -32, "baseline": "alphabetic"},
   "data": {"name": "visc"}, "transform": [{"filter": "datum.panel === 'W/S 0.35'"}],
   "encoding": {
     "x": {"field": "rate", "type": "quantitative", "scale": {"type": "log", "domain": [0.0001, 10], "nice": false}, "axis": {"title": "Shear rate (s⁻¹)", "values": [0.0001, 0.001, 0.01, 0.1, 1], "labelExpr": "upper(format(datum.value, '.1e'))"}},
     "y": {"field": "viscosity", "type": "quantitative", "scale": {"type": "log", "domain": [100, 100000000000], "nice": false}, "axis": {"title": "Viscosity (mPa.s)", "values": [100, 1000, 10000, 100000, 1000000, 10000000, 100000000, 1000000000, 10000000000, 100000000000], "labelExpr": "upper(format(datum.value, '.1e'))"}}
   },
   "layer": [
     {"mark": {"type": "point", "filled": true, "size": 120, "strokeWidth": 1, "opacity": 1},
      "encoding": {
        "fill": {"field": "series", "type": "nominal", "scale": {"domain": ["Water", "0.3SUP/0.1SEQ", "0.3SUP/0.3SEQ"], "range": ["#000000", "#ff0000", "#25a5dd"]}, "legend": {"title": null}},
        "stroke": {"field": "series", "type": "nominal", "scale": {"domain": ["Water", "0.3SUP/0.1SEQ", "0.3SUP/0.3SEQ"], "range": ["#000000", "#ff0000", "#333333"]}, "legend": {"title": null}},
        "shape": {"field": "series", "type": "nominal", "scale": {"domain": ["Water", "0.3SUP/0.1SEQ", "0.3SUP/0.3SEQ"], "range": ["circle", "diamond", "triangle-up"]}, "legend": {"title": null}}
      }},
     {"mark": {"type": "line", "color": "#000", "strokeWidth": 1.2}, "encoding": {"detail": {"field": "series"}}}
   ]},
  {"width": 461, "height": 225, "title": {"text": "W/S 0.40", "dx": 148, "offset": -32, "baseline": "alphabetic"},
   "data": {"name": "visc"}, "transform": [{"filter": "datum.panel === 'W/S 0.40'"}],
   "encoding": {
     "x": {"field": "rate", "type": "quantitative", "scale": {"type": "log", "domain": [0.0001, 10], "nice": false}, "axis": {"title": "Shear rate (s⁻¹)", "values": [0.0001, 0.001, 0.01, 0.1, 1], "labelExpr": "upper(format(datum.value, '.1e'))"}},
     "y": {"field": "viscosity", "type": "quantitative", "scale": {"type": "log", "domain": [100, 100000000000], "nice": false}, "axis": {"title": "Viscosity (mPa.s)", "values": [100, 1000, 10000, 100000, 1000000, 10000000, 100000000, 1000000000, 10000000000, 100000000000], "labelExpr": "upper(format(datum.value, '.1e'))"}}
   },
   "layer": [
     {"mark": {"type": "point", "filled": true, "size": 120, "strokeWidth": 1, "opacity": 1},
      "encoding": {
        "fill": {"field": "series", "type": "nominal", "scale": {"domain": ["Water", "0.3SUP/0.1SEQ", "0.3SUP/0.3SEQ"], "range": ["#000000", "#ff0000", "#25a5dd"]}, "legend": {"title": null}},
        "stroke": {"field": "series", "type": "nominal", "scale": {"domain": ["Water", "0.3SUP/0.1SEQ", "0.3SUP/0.3SEQ"], "range": ["#000000", "#ff0000", "#333333"]}, "legend": {"title": null}},
        "shape": {"field": "series", "type": "nominal", "scale": {"domain": ["Water", "0.3SUP/0.1SEQ", "0.3SUP/0.3SEQ"], "range": ["circle", "diamond", "triangle-up"]}, "legend": {"title": null}}
      }},
     {"mark": {"type": "line", "color": "#000", "strokeWidth": 1.2}, "encoding": {"detail": {"field": "series"}}}
   ]}
 ]},
 {"spacing": 46,
  "title": {"text": "Viscosity curves for the binder with different admixtures at different w/b ratios.", "orient": "bottom", "anchor": "start", "frame": "bounds", "font": "Liberation Serif", "fontSize": 22, "fontWeight": "normal", "color": "#000", "dx": 25, "offset": 38, "baseline": "alphabetic"},
  "resolve": {"scale": {"fill": "independent", "stroke": "independent", "shape": "independent"}, "legend": {"fill": "independent", "stroke": "independent", "shape": "independent"}},
  "hconcat": [
  {"width": 464, "height": 225, "title": {"text": "W/S 0.45", "dx": 150, "offset": -32, "baseline": "alphabetic"},
   "data": {"name": "visc"}, "transform": [{"filter": "datum.panel === 'W/S 0.45'"}],
   "encoding": {
     "x": {"field": "rate", "type": "quantitative", "scale": {"type": "log", "domain": [0.0001, 10], "nice": false}, "axis": {"title": "Shear rate (s⁻¹)", "values": [0.0001, 0.001, 0.01, 0.1, 1], "labelExpr": "upper(format(datum.value, '.1e'))"}},
     "y": {"field": "viscosity", "type": "quantitative", "scale": {"type": "log", "domain": [100, 100000000000], "nice": false}, "axis": {"title": "Viscosity (mPa.s)", "values": [100, 1000, 10000, 100000, 1000000, 10000000, 100000000, 1000000000, 10000000000, 100000000000], "labelExpr": "upper(format(datum.value, '.1e'))"}}
   },
   "layer": [
     {"mark": {"type": "point", "filled": true, "size": 120, "strokeWidth": 1, "opacity": 1},
      "encoding": {
        "fill": {"field": "series", "type": "nominal", "scale": {"domain": ["Water", "0.3SUP/0.1SEQ", "0.3SUP/0.3SEQ"], "range": ["#000000", "#ff0000", "#25a5dd"]}, "legend": {"title": null}},
        "stroke": {"field": "series", "type": "nominal", "scale": {"domain": ["Water", "0.3SUP/0.1SEQ", "0.3SUP/0.3SEQ"], "range": ["#000000", "#ff0000", "#333333"]}, "legend": {"title": null}},
        "shape": {"field": "series", "type": "nominal", "scale": {"domain": ["Water", "0.3SUP/0.1SEQ", "0.3SUP/0.3SEQ"], "range": ["circle", "diamond", "triangle-up"]}, "legend": {"title": null}}
      }},
     {"mark": {"type": "line", "color": "#000", "strokeWidth": 1.2}, "encoding": {"detail": {"field": "series"}}}
   ]},
  {"width": 461, "height": 225, "title": {"text": "W/S 0.50", "dx": 148, "offset": -32, "baseline": "alphabetic"},
   "data": {"name": "visc"}, "transform": [{"filter": "datum.panel === 'W/S 0.50'"}],
   "encoding": {
     "x": {"field": "rate", "type": "quantitative", "scale": {"type": "log", "domain": [0.0001, 10], "nice": false}, "axis": {"title": "Shear rate (s⁻¹)", "values": [0.0001, 0.001, 0.01, 0.1, 1], "labelExpr": "upper(format(datum.value, '.1e'))"}},
     "y": {"field": "viscosity", "type": "quantitative", "scale": {"type": "log", "domain": [100, 100000000000], "nice": false}, "axis": {"title": "Viscosity (mPa.s)", "values": [100, 1000, 10000, 100000, 1000000, 10000000, 100000000, 1000000000, 10000000000, 100000000000], "labelExpr": "upper(format(datum.value, '.1e'))"}}
   },
   "layer": [
     {"mark": {"type": "point", "filled": true, "size": 120, "strokeWidth": 1, "opacity": 1},
      "encoding": {
        "fill": {"field": "series", "type": "nominal", "scale": {"domain": ["Water", "0.3SUP/0.1SEQ", "0.3SUP/0.3SEQ"], "range": ["#000000", "#ff0000", "#25a5dd"]}, "legend": {"title": null}},
        "stroke": {"field": "series", "type": "nominal", "scale": {"domain": ["Water", "0.3SUP/0.1SEQ", "0.3SUP/0.3SEQ"], "range": ["#000000", "#ff0000", "#333333"]}, "legend": {"title": null}},
        "shape": {"field": "series", "type": "nominal", "scale": {"domain": ["Water", "0.3SUP/0.1SEQ", "0.3SUP/0.3SEQ"], "range": ["circle", "diamond", "triangle-up"]}, "legend": {"title": null}}
      }},
     {"mark": {"type": "line", "color": "#000", "strokeWidth": 1.2}, "encoding": {"detail": {"field": "series"}}}
   ]}
 ]}
]
}
